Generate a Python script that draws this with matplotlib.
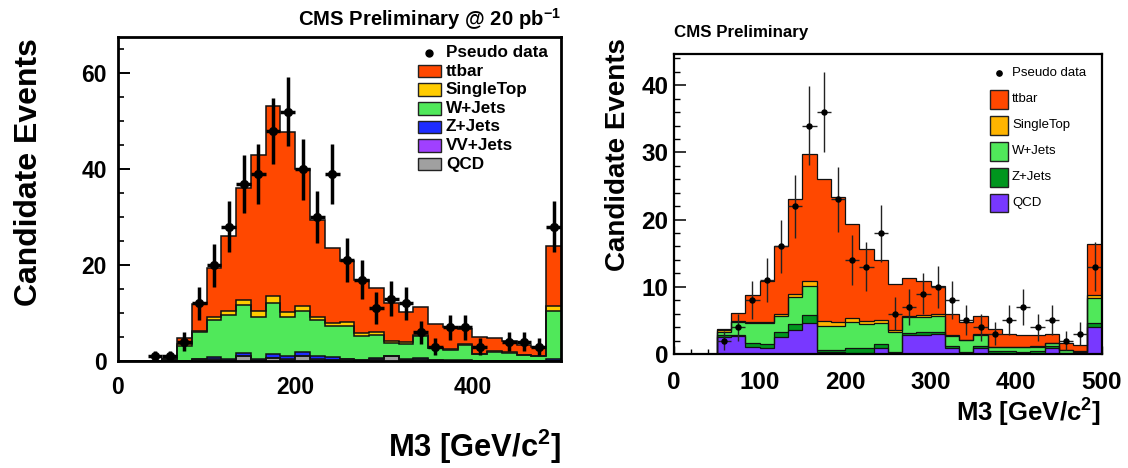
import numpy as np
import matplotlib
matplotlib.use("Agg")
import matplotlib.pyplot as plt
from matplotlib.patches import Rectangle
from matplotlib.lines import Line2D

plt.rcParams['font.family'] = ['Liberation Sans', 'DejaVu Sans']
plt.rcParams['mathtext.fontset'] = 'custom'
plt.rcParams['mathtext.rm'] = 'Liberation Sans:bold'
plt.rcParams['mathtext.it'] = 'Liberation Sans:bold'
plt.rcParams['mathtext.bf'] = 'Liberation Sans:bold'
plt.rcParams['mathtext.default'] = 'rm'

# ---------------- data ----------------
bin_edges = np.linspace(0, 500, 31)
nan = np.nan

# Left panel (CMS Preliminary @ 20 pb-1)
left_data = [nan, nan, 1, 1, 4, 12, 20, 28, 37, 39, 48, 52, 40, 30, 39, 21, 17, 11,
             13, 12, 6, 3, 7, 7, 3, nan, 4, 4, 3, 28]
left_qcd = [0, 0, 0, 0, 0, 0.3, 0.3, 0.1, 1.0, 0.1, 0.6, 0.3, 1.0, 0.3, 0.2, 0.3, 0.1, 0.3,
            1.0, 0.2, 0.3, 0.1, 0, 0, 0, 0, 0, 0, 0, 0.1]
left_vv = [0, 0, 0, 0, 0, 0.05, 0.05, 0.05, 0.05, 0.05, 0.05, 0.05, 0.05, 0.05, 0.05, 0.05,
           0.05, 0.05, 0.05, 0.05, 0.05, 0.05, 0, 0, 0, 0, 0, 0, 0, 0]
left_zjets = [0, 0, 0, 0, 0.1, 0.05, 0.45, 0.25, 0.65, 0.25, 0.85, 0.75, 0.85, 0.65, 0.65, 0.05,
              0.05, 0.35, 0.05, 0.15, 0.25, 0.15, 0.2, 0.2, 0.1, 0.1, 0.1, 0.1, 0.1, 0.4]
left_wjets = [0, 0, 0, 0.4, 3.0, 5.6, 7.7, 9.2, 10.0, 8.8, 10.7, 8.0, 8.5, 7.6, 6.3, 7.0,
              5.0, 4.65, 2.6, 3.2, 4.6, 2.4, 2.1, 3.15, 1.3, 1.8, 1.6, 1.1, 0.9, 9.9]
left_stop = [0, 0, 0, 0, 0.4, 0.2, 0.6, 0.8, 1.0, 1.3, 1.3, 1.2, 1.1, 0.6, 0.8, 0.7, 0.6,
             0.65, 0.4, 0.4, 0.2, 0.1, 0.1, 0.1, 0.1, 0.1, 0.1, 0.1, 0.1, 1.0]
left_ttbar = [0, 0, 0, 0, 1.4, 5.7, 10.2, 15.7, 23.3, 32.4, 39.8, 37.5, 28.5, 20.2, 15.6, 12.8,
              11.1, 9.3, 8.1, 6.2, 5.8, 4.9, 4.6, 3.15, 3.5, 2.7, 2.3, 2.1, 1.8, 12.6]

# Right panel (CMS Preliminary)
right_data = [nan, nan, nan, 2, 4, 8, 11, 16, 22, 34, 36, 23, 14, 13, 18, 6, 7, 9, 10, 8,
              5, 4, 3, 5, 7, 4, 5, 2, 3, 13]
right_qcd = [0, 0, 0, 2.5, 2.7, 1.0, 0.95, 2.6, 3.6, 4.6, 0.35, 0.3, 0.1, 0.1, 0.95, 0.1,
             2.9, 2.85, 3.0, 0.9, 0.2, 0.9, 0.1, 0.05, 0.05, 0.05, 0.9, 0.05, 0.05, 4.0]
right_zjets = [0, 0, 0, 0.3, 0.1, 0.65, 0.55, 0.6, 0.8, 1.2, 0.3, 0.35, 0.8, 0.8, 0.5, 0.25,
               0.2, 0.4, 0.3, 0.3, 0.15, 0.3, 0.4, 0.35, 0.25, 0.35, 0.3, 0.15, 0.1, 0.6]
right_wjets = [0, 0, 0, 0.4, 1.9, 2.95, 3.15, 2.45, 4.1, 4.25, 3.55, 3.45, 3.9, 3.55, 3.2,
               2.85, 2.4, 2.3, 2.35, 1.5, 1.7, 1.7, 0.55, 0.6, 0.7, 0.7, 0.4, 0.4, 0.2, 3.7]
right_stop = [0, 0, 0, 0.3, 0.2, 0.2, 0.15, 0.35, 0.5, 0.8, 0.7, 0.6, 0.5, 0.5, 0.45, 0.4,
              0.2, 0.3, 0.25, 0.1, 0.05, 0.1, 0.05, 0.05, 0.05, 0.05, 0.05, 0.05, 0.05, 0.55]
right_ttbar = [0, 0, 0, 0.2, 1.2, 3.95, 6.1, 10.0, 14.0, 18.85, 21.2, 18.6, 14.0, 10.75, 8.9,
               6.8, 5.6, 5.05, 4.2, 3.2, 2.7, 2.65, 2.6, 1.95, 1.85, 1.75, 1.35, 1.05, 0.9, 7.45]

left_labels = ["ttbar", "SingleTop", "W+Jets", "Z+Jets", "VV+Jets", "QCD"]
right_labels = ["ttbar", "SingleTop", "W+Jets", "Z+Jets", "QCD"]

# ---------------- styles ----------------
C_TT = "#ff4800"
C_ST_L = "#ffcc00"
C_ST_R = "#ffb400"
C_W = "#50e85a"
C_Z_L = "#1e2cff"
C_Z_R = "#00961e"
C_VV = "#a040ff"
C_QCD_L = "#a0a0a0"
C_QCD_R = "#7838ff"

W_PX, H_PX = 1128, 468
fig = plt.figure(figsize=(W_PX / 100, H_PX / 100), dpi=100)


def fx(x):
    return x / W_PX


def fy(y):
    return 1 - y / H_PX


def make_axes(x0, x1, y0, y1):
    return fig.add_axes([fx(x0), fy(y1), fx(x1) - fx(x0), fy(y0) - fy(y1)])


def draw_stack(ax, comps, colors, lw):
    bottom = np.zeros(len(bin_edges) - 1)
    tops = []
    for vals, col in zip(comps, colors):
        top = bottom + np.asarray(vals, float)
        ax.stairs(top, bin_edges, baseline=bottom, fill=True, facecolor=col,
                  edgecolor="none", zorder=2)
        tops.append(top)
        bottom = top
    for top in tops:
        ax.stairs(top, bin_edges, baseline=None, color="#111111", lw=lw, zorder=3)


def draw_data(ax, data, ms, elw, ecolor):
    d = np.asarray(data, float)
    centers = 0.5 * (bin_edges[1:] + bin_edges[:-1])
    half = 0.5 * np.diff(bin_edges)
    m = ~np.isnan(d)
    ax.errorbar(centers[m], d[m], yerr=np.sqrt(d[m]), xerr=half[m], fmt="o",
                color="black", ecolor=ecolor, ms=ms, elinewidth=elw, capsize=0, zorder=5)


def legend(entries, xpatch0, xpatch1, ph, xtext, ymarker, rows, fs, weight, ms, lw):
    # data entry
    fig.add_artist(Line2D([fx(0.5 * (xpatch0 + xpatch1))], [fy(ymarker)], marker="o",
                          color="black", ms=ms, ls="none"))
    fig.text(fx(xtext), fy(ymarker), "Pseudo data", fontsize=fs, weight=weight,
             ha="left", va="center")
    for (lab, col), yc in zip(entries, rows):
        fig.add_artist(Rectangle((fx(xpatch0), fy(yc + ph / 2)), fx(xpatch1) - fx(xpatch0),
                                 fy(yc - ph / 2) - fy(yc + ph / 2), facecolor=col,
                                 edgecolor="#222222", lw=lw, transform=fig.transFigure))
        fig.text(fx(xtext), fy(yc), lab, fontsize=fs, weight=weight, ha="left", va="center")


# ---------------- left panel ----------------
axL = make_axes(118, 561, 37, 361)
draw_stack(axL, [left_qcd, left_vv, left_zjets, left_wjets, left_stop, left_ttbar],
           [C_QCD_L, C_VV, C_Z_L, C_W, C_ST_L, C_TT], 1.1)
draw_data(axL, left_data, 5.6, 2.5, "black")
axL.set_xlim(0, 500)
axL.set_ylim(0, 67.6)
axL.set_yticks([0, 20, 40, 60])
axL.set_yticks(np.arange(0, 67, 5), minor=True)
axL.set_xticks([0, 200, 400])
axL.tick_params(axis="y", which="major", direction="in", length=8.5, width=1.4, pad=8,
                labelsize=16.5)
axL.tick_params(axis="y", which="minor", direction="in", length=4.5, width=1.2)
axL.tick_params(axis="x", which="major", length=0, pad=11, labelsize=16.5)
for lab in axL.get_xticklabels() + axL.get_yticklabels():
    lab.set_fontweight("bold")
for sp in axL.spines.values():
    sp.set_linewidth(2.0)
    sp.set_zorder(6)

fig.text(fx(561), fy(19), r"CMS Preliminary @ 20 pb$^{-1}$", fontsize=14.6, weight="bold",
         ha="right", va="center")
fig.text(fx(29), fy(172), "Candidate Events", fontsize=23, weight="bold", rotation=90,
         ha="center", va="center")
fig.text(fx(561), fy(447), r"M3 [GeV/c$^{2}$]", fontsize=22.2, weight="bold",
         ha="right", va="center")

legend(list(zip(left_labels, [C_TT, C_ST_L, C_W, C_Z_L, C_VV, C_QCD_L])),
       418, 441, 12.5, 446, 52.5, [71.1, 89.7, 108.3, 126.9, 145.5, 164.1],
       12.3, "bold", 5.0, 1.0)

# ---------------- right panel ----------------
axR = make_axes(674, 1101.7, 54.3, 354)
draw_stack(axR, [right_qcd, right_zjets, right_wjets, right_stop, right_ttbar],
           [C_QCD_R, C_Z_R, C_W, C_ST_R, C_TT], 0.9)
draw_data(axR, right_data, 3.6, 1.0, "#222222")
axR.set_xlim(0, 500)
axR.set_ylim(0, 44.6)
axR.set_yticks([0, 10, 20, 30, 40])
axR.set_yticks(np.arange(0, 45, 2), minor=True)
axR.set_xticks([0, 100, 200, 300, 400, 500])
axR.set_xticks(np.arange(0, 501, 20), minor=True)
axR.tick_params(axis="y", which="major", direction="in", length=8.5, width=1.1, pad=4,
                labelsize=17.5)
axR.tick_params(axis="y", which="minor", direction="in", length=4.3, width=1.0)
axR.tick_params(axis="x", which="major", direction="in", length=6, width=1.0, pad=12,
                labelsize=17.5)
axR.tick_params(axis="x", which="minor", direction="in", length=3.5, width=1.0)
for lab in axR.get_xticklabels() + axR.get_yticklabels():
    lab.set_fontweight("bold")
for sp in axR.spines.values():
    sp.set_linewidth(1.6)
    sp.set_zorder(6)

fig.text(fx(674), fy(33), "CMS Preliminary", fontsize=12.2, weight="bold",
         ha="left", va="center")
fig.text(fx(618), fy(155), "Candidate Events", fontsize=20, weight="bold", rotation=90,
         ha="center", va="center")
fig.text(fx(1101), fy(413), r"M3 [GeV/c$^{2}$]", fontsize=18.5, weight="bold",
         ha="right", va="center")

legend(list(zip(right_labels, [C_TT, C_ST_R, C_W, C_Z_R, C_QCD_R])),
       990, 1008, 19, 1012, 72.7, [99.3, 125.0, 151.0, 177.0, 203.0],
       9.5, "normal", 3.8, 1.0)

fig.savefig("out.png", dpi=100)
